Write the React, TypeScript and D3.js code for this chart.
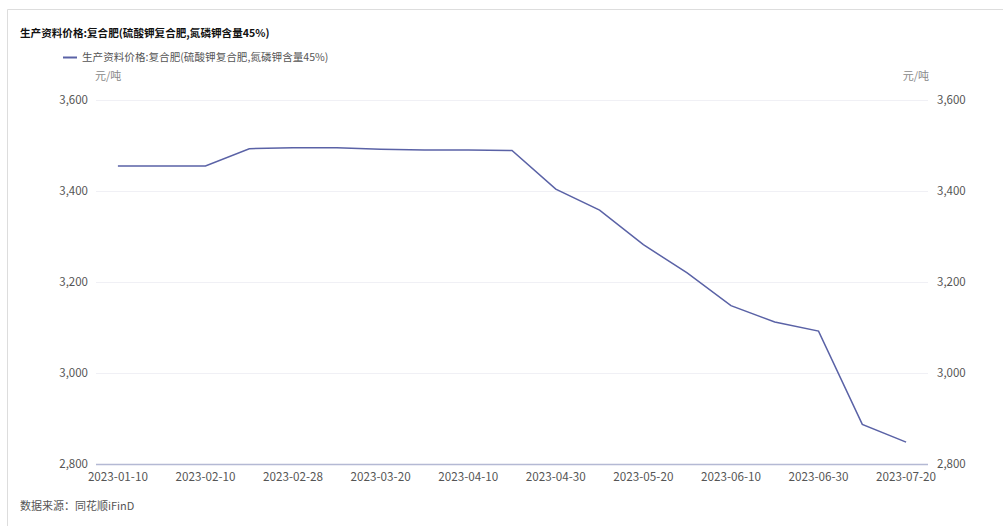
import { useEffect, useRef } from 'react'
import * as d3 from 'd3'

const TITLE = '生产资料价格:复合肥(硫酸钾复合肥,氮磷钾含量45%)'
const UNIT = '元/吨'
const SOURCE = '数据来源：同花顺iFinD'

const dates = [
  '2023-01-10', '2023-01-20', '2023-02-10', '2023-02-20', '2023-02-28',
  '2023-03-10', '2023-03-20', '2023-03-31', '2023-04-10', '2023-04-20',
  '2023-04-30', '2023-05-10', '2023-05-20', '2023-05-31', '2023-06-10',
  '2023-06-20', '2023-06-30', '2023-07-10', '2023-07-20',
]
const prices = [
  3455, 3455, 3455, 3493, 3495,
  3495, 3492, 3490, 3490, 3489,
  3404, 3358, 3282, 3220, 3148,
  3112, 3092, 2887, 2848,
]
const yTicks = [2800, 3000, 3200, 3400, 3600]

const FONT = '"Noto Sans CJK SC", "Noto Sans", sans-serif'
const LINE = '#5a62a6'
const TEXT = '#555'

export default function App() {
  const svgRef = useRef<SVGSVGElement>(null)

  useEffect(() => {
    if (!svgRef.current) return
    const svg = d3.select(svgRef.current)
    svg.selectAll('*').remove()

    const left = 96, right = 928, top = 100, bottom = 464

    // frame
    svg.append('path').attr('d', 'M7.5,526 V9.5 H1003')
      .attr('fill', 'none').attr('stroke', '#ddd').attr('stroke-width', 1)

    const x = d3.scalePoint<string>().domain(dates).range([left, right]).padding(0.5)
    const y = d3.scaleLinear().domain([2800, 3600]).range([bottom, top])

    // grid
    svg.append('g').selectAll('line').data(yTicks.filter(t => t !== 2800)).join('line')
      .attr('x1', left).attr('x2', right)
      .attr('y1', d => y(d) + 0.5).attr('y2', d => y(d) + 0.5)
      .attr('stroke', '#f0f0f5')

    const fmt = d3.format(',')
    // left axis labels
    svg.append('g').selectAll('text').data(yTicks).join('text')
      .attr('x', 88).attr('y', d => y(d) + 4)
      .attr('text-anchor', 'end').attr('font-size', 11.5).attr('fill', TEXT)
      .attr('font-family', FONT).text(d => fmt(d))
    // right axis labels
    svg.append('g').selectAll('text').data(yTicks).join('text')
      .attr('x', 937).attr('y', d => y(d) + 4)
      .attr('text-anchor', 'start').attr('font-size', 11.5).attr('fill', TEXT)
      .attr('font-family', FONT).text(d => fmt(d))

    // x axis
    svg.append('line').attr('x1', left).attr('x2', right)
      .attr('y1', bottom + 0.5).attr('y2', bottom + 0.5)
      .attr('stroke', '#b4b9d4').attr('stroke-width', 1.5)
    svg.append('g').selectAll('text').data(dates.filter((_, i) => i % 2 === 0)).join('text')
      .attr('x', d => x(d)!).attr('y', bottom + 17)
      .attr('text-anchor', 'middle').attr('font-size', 11.7).attr('fill', TEXT)
      .attr('font-family', FONT).text(d => d)

    // line
    const line = d3.line<number>().x((_, i) => x(dates[i])!).y(d => y(d))
    svg.append('path').datum(prices).attr('d', line)
      .attr('fill', 'none').attr('stroke', LINE).attr('stroke-width', 1.5)

    // title
    svg.append('text').attr('x', 20).attr('y', 37).attr('font-size', 10.6)
      .attr('font-weight', 'bold').attr('fill', '#111').attr('font-family', FONT).text(TITLE)

    // legend
    svg.append('line').attr('x1', 63).attr('x2', 77).attr('y1', 57.5).attr('y2', 57.5)
      .attr('stroke', LINE).attr('stroke-width', 2)
    svg.append('text').attr('x', 82).attr('y', 61).attr('font-size', 10.6)
      .attr('fill', TEXT).attr('font-family', FONT).text(TITLE)

    // units
    svg.append('text').attr('x', 95).attr('y', 80).attr('font-size', 11)
      .attr('fill', '#888').attr('font-family', FONT).text(UNIT)
    svg.append('text').attr('x', 929).attr('y', 80).attr('font-size', 11)
      .attr('text-anchor', 'end').attr('fill', '#888').attr('font-family', FONT).text(UNIT)

    // source
    svg.append('text').attr('x', 20).attr('y', 510).attr('font-size', 11)
      .attr('fill', TEXT).attr('font-family', FONT).text(SOURCE)
  }, [])

  return (
    <svg ref={svgRef} width={1003} height={526}
      style={{ position: 'absolute', left: 0, top: 0, background: '#fff' }} />
  )
}
